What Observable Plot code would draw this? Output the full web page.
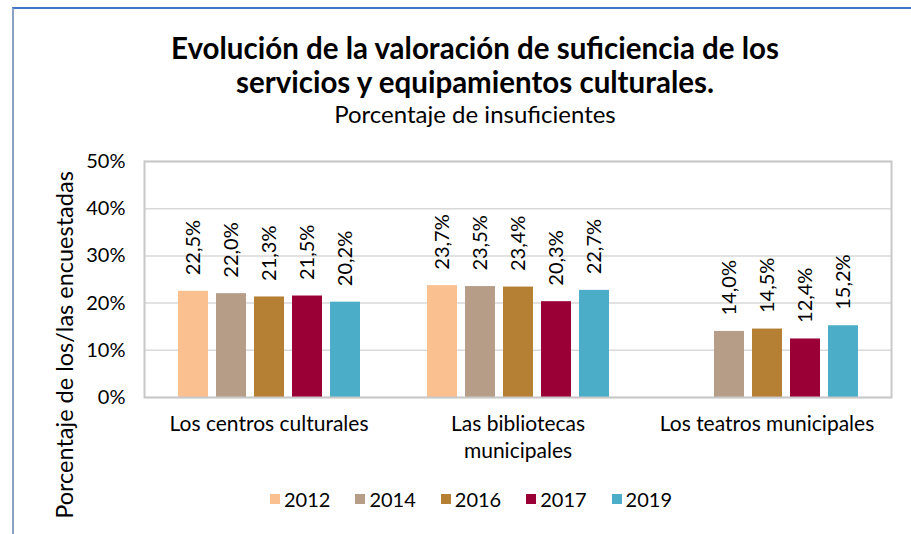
<!DOCTYPE html>
<html><head><meta charset="utf-8">
<script src="https://cdn.jsdelivr.net/npm/d3@7"></script>
<script src="https://cdn.jsdelivr.net/npm/@observablehq/plot@0.6"></script>
<style>
body{margin:0;background:#fff;font-family:Lato,sans-serif;}
#wrap{position:relative;width:911px;height:534px;overflow:hidden;}
#border{position:absolute;left:12px;top:7px;width:920px;height:560px;border-top:2px solid #4472C4;border-left:2px solid #8CA2C4;}
#title{position:absolute;left:0;top:31px;width:950px;text-align:center;font-weight:700;font-size:29.5px;line-height:34px;color:#000;}
#subtitle{position:absolute;left:0;top:99px;width:950px;text-align:center;font-size:24px;line-height:30px;color:#000;}
#chart{position:absolute;left:0;top:140px;}
#chart svg{overflow:visible;}
#ytitle{position:absolute;left:64px;top:345px;transform:translate(-50%,-50%) rotate(-90deg);white-space:nowrap;font-size:23.5px;line-height:26px;color:#000;}
#legend{position:absolute;left:0;top:482px;width:967px;display:flex;justify-content:center;}
.lg-swatch{margin-right:25px !important;}
.lg-swatch > svg{margin-right:4px !important;}
</style></head><body>
<div id="wrap">
  <div id="border"></div>
  <div id="title">Evolución de la valoración de suficiencia de los<br>servicios y equipamientos culturales.</div>
  <div id="subtitle">Porcentaje de insuficientes</div>
  <div id="chart"></div>
  <div id="ytitle"></div>
  <div id="legend"></div>
</div>
<script>
const categories = ["Los centros culturales", "Las bibliotecas municipales", "Los teatros municipales"];
const categoryLabels = ["Los centros culturales", "Las bibliotecas\nmunicipales", "Los teatros municipales"];
const years = ["2012", "2014", "2016", "2017", "2019"];
const colors = ["#FAC090", "#B59D87", "#B58034", "#9A0036", "#4BADC7"];
const v2012 = [22.5, 23.7, null];
const v2014 = [22.0, 23.5, 14.0];
const v2016 = [21.3, 23.4, 14.5];
const v2017 = [21.5, 20.3, 12.4];
const v2019 = [20.2, 22.7, 15.2];
const yTicks = [0, 10, 20, 30, 40, 50];
const yTitle = "Porcentaje de los/las encuestadas";

const series = {"2012": v2012, "2014": v2014, "2016": v2016, "2017": v2017, "2019": v2019};
const data = [];
categories.forEach((cat, i) => {
  years.forEach(y => {
    const v = series[y][i];
    if (v != null) data.push({cat, year: y, value: v});
  });
});
const fmt = v => v.toFixed(1).replace(".", ",") + "%";

const plot = Plot.plot({
  width: 911, height: 340,
  marginLeft: 144, marginRight: 20, marginTop: 21, marginBottom: 83,
  style: {fontFamily: "Lato", background: "transparent", color: "#000", overflow: "visible"},
  fx: {domain: categories, padding: 0, axis: null},
  x: {domain: years, paddingInner: 0.217, paddingOuter: 0.858, axis: null},
  y: {domain: [0, 50], axis: null},
  color: {domain: years, range: colors},
  marks: [
    Plot.gridY(yTicks, {stroke: "#D9D9D9", strokeOpacity: 1, strokeWidth: 1.5}),
    Plot.axisY({ticks: yTicks, tickSize: 0, tickPadding: 19, tickFormat: d => d + "%", fontSize: 20, fill: "#000", label: null}),
    Plot.barY(data, {fx: "cat", x: "year", y: "value", fill: "year"}),
    Plot.text(data, {fx: "cat", x: "year", y: "value", text: d => fmt(d.value), rotate: -90, textAnchor: "start", dy: -16, fontSize: 20, fill: "#000"}),
    Plot.text(categories, {fx: d => d, text: (d, i) => categoryLabels[i], frameAnchor: "bottom", lineAnchor: "top", dy: 14, fontSize: 21, lineHeight: 1.29, fill: "#000"}),
    Plot.frame({facet: "super", stroke: "#C8C8C8", strokeWidth: 2})
  ]
});
document.getElementById("chart").appendChild(plot);
document.getElementById("ytitle").textContent = yTitle;

const legend = Plot.legend({
  color: {type: "ordinal", domain: years, range: colors},
  swatchSize: 10,
  className: "lg",
  style: {fontFamily: "Lato", fontSize: "20px", color: "#000"}
});
document.getElementById("legend").appendChild(legend);
</script>
</body></html>
